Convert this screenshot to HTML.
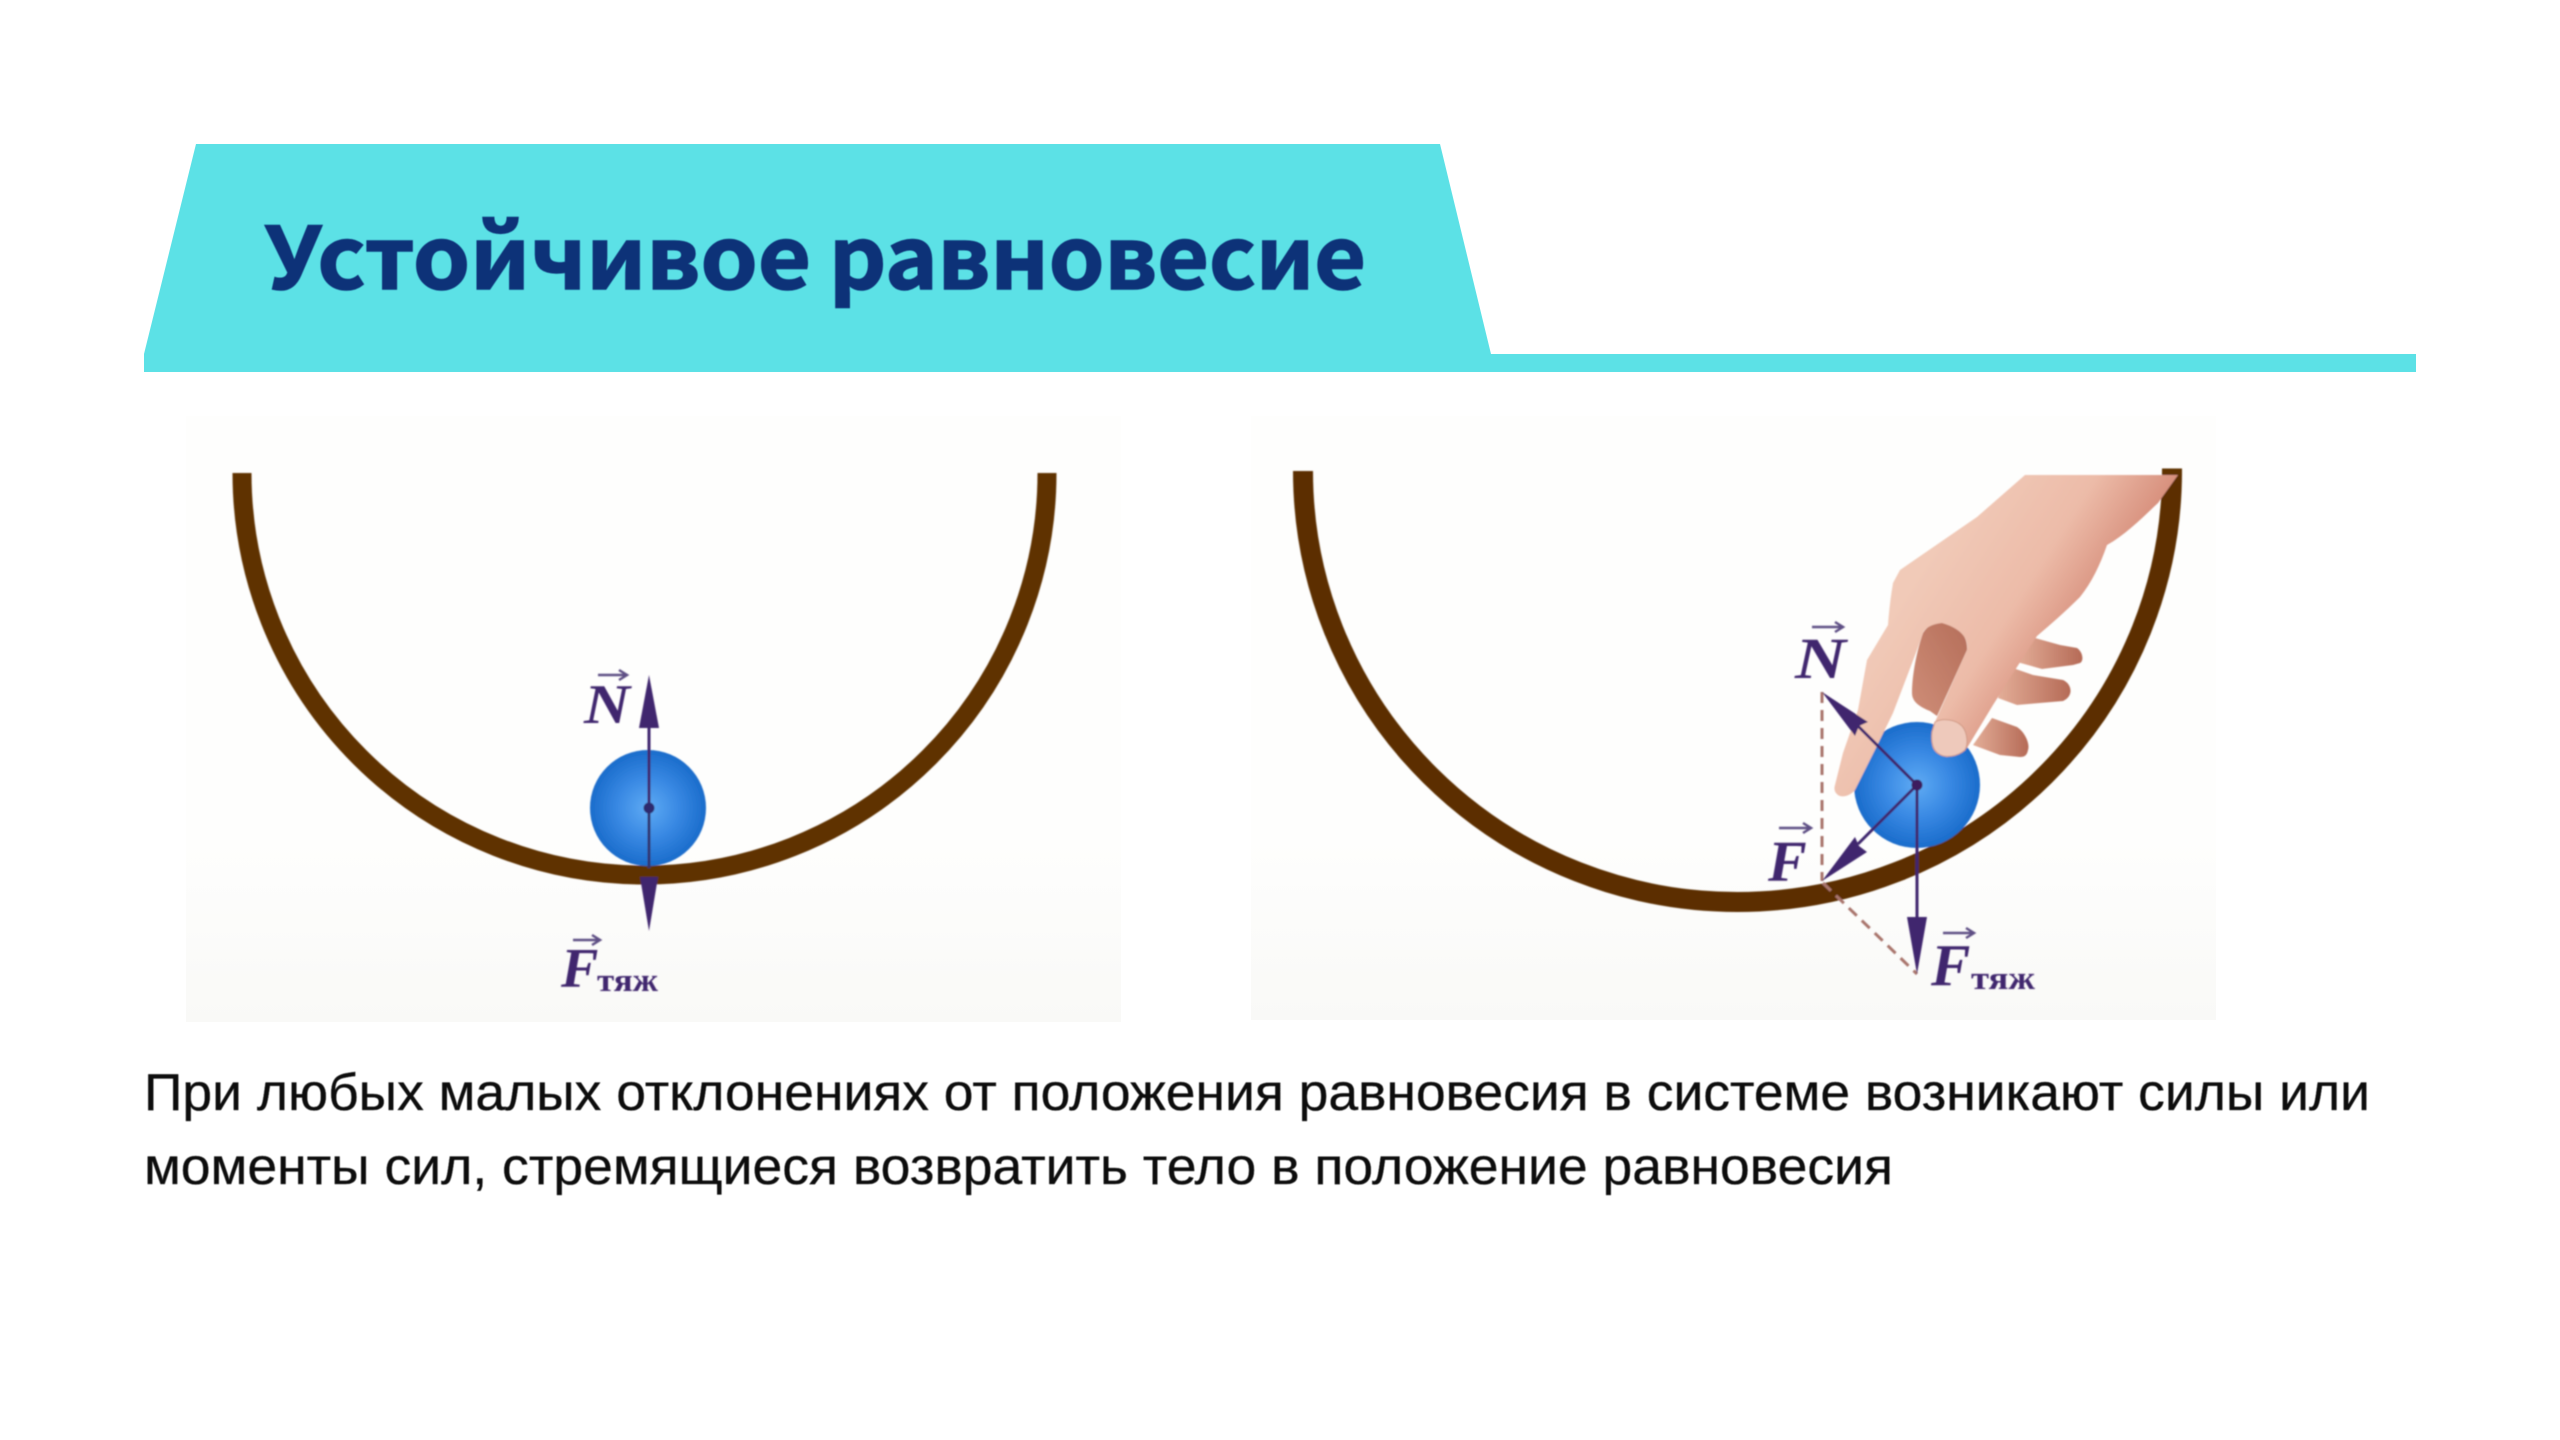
<!DOCTYPE html>
<html lang="ru">
<head>
<meta charset="utf-8">
<title>Устойчивое равновесие</title>
<style>
html,body{margin:0;padding:0;background:#fff;}
body{width:2560px;height:1440px;overflow:hidden;}
svg{display:block;}
.lab{font-family:"Liberation Serif",serif;font-weight:bold;font-style:italic;fill:#41286e;}
.sub{font-family:"Liberation Serif",serif;font-weight:bold;fill:#41286e;}
</style>
</head>
<body>
<svg width="2560" height="1440" viewBox="0 0 2560 1440" xmlns="http://www.w3.org/2000/svg">
<defs>
<linearGradient id="pg" x1="0" y1="0" x2="0" y2="1">
<stop offset="0" stop-color="#fefefd"/><stop offset=".7" stop-color="#fefefd"/><stop offset="1" stop-color="#f9f9f7"/>
</linearGradient>
<radialGradient id="ball" cx=".5" cy=".5" r=".5">
<stop offset="0" stop-color="#5fabf4"/><stop offset=".55" stop-color="#3787e2"/><stop offset="1" stop-color="#1a6ccb"/>
</radialGradient>
<linearGradient id="hand" gradientUnits="userSpaceOnUse" x1="1950" y1="520" x2="2090" y2="610">
<stop offset="0" stop-color="#f1cab8"/><stop offset=".6" stop-color="#ecbba8"/><stop offset="1" stop-color="#d8917e"/>
</linearGradient>
<linearGradient id="back" x1="1" y1="0" x2="0" y2="0">
<stop offset="0" stop-color="#b56a56"/><stop offset="1" stop-color="#e3ad97"/>
</linearGradient>
<linearGradient id="dark" x1="1" y1="0" x2="0" y2="1">
<stop offset="0" stop-color="#b56e5a"/><stop offset="1" stop-color="#cf8e78"/>
</linearGradient>
<filter id="soft" x="-2%" y="-2%" width="104%" height="104%"><feGaussianBlur stdDeviation="0.8"/></filter>
<filter id="softer" x="-2%" y="-10%" width="104%" height="120%"><feGaussianBlur stdDeviation="0.5"/></filter>
</defs>

<!-- banner -->
<path d="M196 144H1440L1491 354H2416V372H144V354Z" fill="#5ce1e6"/>
<g font-family="'Noto Sans CJK SC','DejaVu Sans',sans-serif" font-weight="700" font-size="86" fill="#0c3278" stroke="#0c3278" stroke-width="1.6" filter="url(#softer)">
<text x="265" y="289" textLength="546" lengthAdjust="spacingAndGlyphs">Устойчивое</text>
<text x="829" y="289" textLength="537" lengthAdjust="spacingAndGlyphs">равновесие</text>
</g>

<!-- panels -->
<rect x="186" y="416" width="935" height="606" fill="url(#pg)"/>
<rect x="1251" y="416" width="965" height="604" fill="url(#pg)"/>
<g filter="url(#soft)">
<!-- left diagram -->
<path d="M242 473A402.5 402 0 0 0 1047 473" fill="none" stroke="#5f3105" stroke-width="19"/>
<circle cx="648" cy="808" r="58" fill="url(#ball)"/>
<path d="M649 808V720" stroke="#41286e" stroke-width="3" fill="none"/>
<path d="M649 675L659 728H639Z" fill="#41286e"/>
<path d="M649 808V868" stroke="#33356f" stroke-width="3" fill="none"/>
<path d="M640 877H658L649 931Z" fill="#41286e"/>
<circle cx="649" cy="808" r="5.5" fill="#2f2a6e"/>
<path d="M598 675H626M619 670L627 675L619 680" fill="none" stroke="#5f4f85" stroke-width="2.5"/>
<path d="M573 940H600M592 935L600 940L592 945" fill="none" stroke="#5f4f85" stroke-width="2.5"/>

<!-- right diagram -->
<path d="M1303 471A434.5 431 0 0 0 2172 471" fill="none" stroke="#5c2f04" stroke-width="20"/>
<path d="M2162 472H2182" stroke="#5e3205" stroke-width="7"/>

<!-- back fingers -->
<path d="M2035 638L2060 645L2077 648C2083 652 2084 661 2080 663L2073 665L2042 669L2017 662Z" fill="url(#back)"/>
<path d="M2010 667L2033 675L2063 680C2072 684 2074 696 2063 701L2017 705L1998 698Z" fill="url(#back)"/>
<path d="M1992 718L2017 727C2026 733 2030 745 2028 750C2027 755 2025 757 2020 757L2000 755L1973 745Z" fill="url(#back)"/>
<path d="M1923 633C1928 625 1935 622 1942 622C1958 624 1968 636 1967 650L1937 716L1930 711C1920 707 1912 702 1912 693C1912 675 1917 650 1923 633Z" fill="url(#dark)"/>

<circle cx="1917" cy="785" r="63" fill="url(#ball)"/>

<!-- hand -->
<path d="M2025 475H2178L2158 503C2140 520 2125 535 2107 545C2100 565 2092 582 2080 597C2065 612 2050 625 2037 636L2017 667L1993 705L1967 748L1947 757C1937 755 1932 750 1932 743L1935 722L1967 650C1969 638 1960 628 1942 623C1932 624 1925 628 1923 633L1917 650L1893 713L1875 750L1855 790C1850 796 1842 798 1838 795C1834 792 1834 788 1835 785L1843 753L1858 710L1867 660L1888 625C1890 600 1892 590 1893 583L1900 570L1977 517Z" fill="url(#hand)"/>
<path d="M1935 722C1942 718 1955 719 1962 726C1968 733 1968 745 1965 750C1957 757 1945 758 1939 754C1932 750 1931 740 1932 732Z" fill="#eec9bb" stroke="#d19a85" stroke-width="1"/>

<!-- vectors -->
<path d="M1822 692V881M1823 883L1917 974" fill="none" stroke="#a9746c" stroke-width="3" stroke-dasharray="11 7"/>
<path d="M1917 785L1858 726M1917 785L1858 844M1917 785V925" fill="none" stroke="#41286e" stroke-width="3"/>
<path d="M1822 692L1868 722L1859 726L1855 736Z" fill="#41286e"/>
<path d="M1822 881L1855 837L1859 846L1867 852Z" fill="#41286e"/>
<path d="M1917 974L1907 917H1927Z" fill="#41286e"/>
<circle cx="1917" cy="785" r="5.5" fill="#3d1e5e"/>
<path d="M1812 627H1842M1835 622L1843 627L1835 632" fill="none" stroke="#5f4f85" stroke-width="2.5"/>
<path d="M1779 828H1810M1803 823L1811 828L1803 833" fill="none" stroke="#5f4f85" stroke-width="2.5"/>
<path d="M1943 933H1973M1966 928L1974 933L1966 938" fill="none" stroke="#5f4f85" stroke-width="2.5"/>

<text class="lab" x="584" y="723" font-size="56" textLength="46" lengthAdjust="spacingAndGlyphs">N</text>
<text class="lab" x="561" y="987" font-size="56">F</text>
<text class="sub" x="597" y="991" font-size="33" textLength="61" lengthAdjust="spacingAndGlyphs">тяж</text>
<text class="lab" x="1795" y="678" font-size="58" textLength="51" lengthAdjust="spacingAndGlyphs">N</text>
<text class="lab" x="1768" y="881" font-size="58">F</text>
<text class="lab" x="1931" y="985" font-size="59">F</text>
<text class="sub" x="1971" y="989" font-size="33" textLength="64" lengthAdjust="spacingAndGlyphs">тяж</text>
</g>

<!-- body -->
<g font-family="'Liberation Sans',sans-serif" font-size="52" fill="#0c0c0c" stroke="#0c0c0c" stroke-width="0.3" filter="url(#softer)">
<text x="144" y="1110" textLength="2226" lengthAdjust="spacingAndGlyphs">При любых малых отклонениях от положения равновесия в системе возникают силы или</text>
<text x="144" y="1184" textLength="1749" lengthAdjust="spacingAndGlyphs">моменты сил, стремящиеся возвратить тело в положение равновесия</text>
</g>
</svg>
</body>
</html>
